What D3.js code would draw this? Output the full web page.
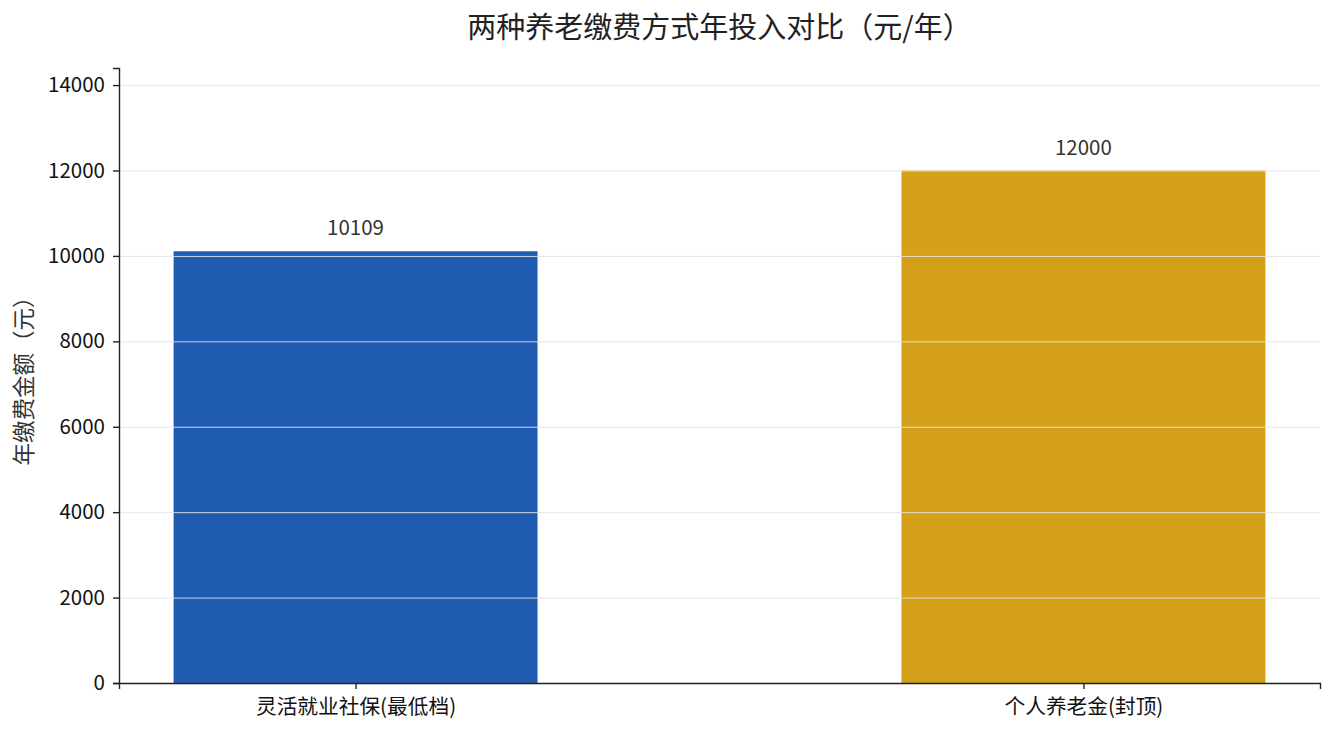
<!DOCTYPE html>
<html>
<head>
<meta charset="UTF-8">
<title>两种养老缴费方式年投入对比</title>
<script src="https://cdn.jsdelivr.net/npm/d3@7"></script>
<style>
    body { margin: 0; background: #fff; }
    svg text { font-family: "Noto Sans CJK SC", "Noto Sans", sans-serif; }
    .tick text { fill: #111; }
</style>
</head>
<body>
<div id="chart"></div>
<script>
    // chart values
    const categories = ["灵活就业社保(最低档)", "个人养老金(封顶)"];
    const amounts = [10109, 12000];
    const barColors = ["#1f5bb0", "#d4a01a"];
    const yTicks = [0, 2000, 4000, 6000, 8000, 10000, 12000, 14000];

    const width = 1335, height = 735;
    const margin = {top: 68, right: 15, bottom: 52, left: 119};

    let svg = d3.select("#chart").append("svg")
        .attr("width", width)
        .attr("height", height);

    // bars sit at 0, 1 ... with width 0.5, like a plain bar plot
    let x = d3.scaleLinear()
        .domain([-0.325, categories.length - 1 + 0.325])
        .range([margin.left, width - margin.right]);

    let y = d3.scaleLinear()
        .domain([0, d3.max(amounts) * 1.2])
        .range([height - margin.bottom, margin.top]);

    let data = categories.map((c, i) => ({name: c, value: amounts[i], color: barColors[i], i: i}));

    svg.append("g")
        .selectAll("rect")
        .data(data)
        .join("rect")
        .attr("x", d => x(d.i - 0.25))
        .attr("width", d => x(d.i + 0.25) - x(d.i - 0.25))
        .attr("y", d => y(d.value))
        .attr("height", d => y(0) - y(d.value))
        .attr("fill", d => d.color);

    // grid lines drawn over the bars
    svg.append("g")
        .selectAll("line")
        .data(yTicks.filter(t => t > 0))
        .join("line")
        .attr("x1", margin.left)
        .attr("x2", width - margin.right)
        .attr("y1", d => y(d) + 0.5)
        .attr("y2", d => y(d) + 0.5)
        .attr("stroke", "#e4e4e4")
        .attr("stroke-width", 0.9);

    let yAxis = svg.append("g")
        .attr("transform", "translate(" + margin.left + ",0)")
        .call(d3.axisLeft(y).tickValues(yTicks).tickFormat(d3.format("d")).tickSizeOuter(0).tickSize(6).tickPadding(8));
    yAxis.selectAll("text").style("font-size", "20.5px");

    let xAxis = svg.append("g")
        .attr("transform", "translate(0," + (height - margin.bottom) + ")")
        .call(d3.axisBottom(x).tickValues(data.map(d => d.i)).tickFormat(i => categories[i]).tickSizeOuter(0).tickSize(6).tickPadding(10));
    xAxis.selectAll("text").style("font-size", "20.7px");

    svg.selectAll(".domain, .tick line").attr("stroke", "#222").attr("stroke-width", 1.4);

    // value labels above the bars
    svg.append("g")
        .selectAll("text")
        .data(data)
        .join("text")
        .attr("x", d => x(d.i))
        .attr("y", d => y(d.value) - 16)
        .attr("text-anchor", "middle")
        .style("font-size", "20.5px")
        .attr("fill", "#333")
        .text(d => d.value);

    svg.append("text")
        .attr("x", (margin.left + width - margin.right) / 2)
        .attr("y", 38)
        .attr("text-anchor", "middle")
        .style("font-size", "29px")
        .attr("fill", "#222")
        .text("两种养老缴费方式年投入对比（元/年）");

    svg.append("text")
        .attr("transform", "translate(32," + ((margin.top + height - margin.bottom) / 2) + ") rotate(-90)")
        .attr("text-anchor", "middle")
        .style("font-size", "22.5px")
        .attr("fill", "#333")
        .text("年缴费金额（元）");
</script>
</body>
</html>
